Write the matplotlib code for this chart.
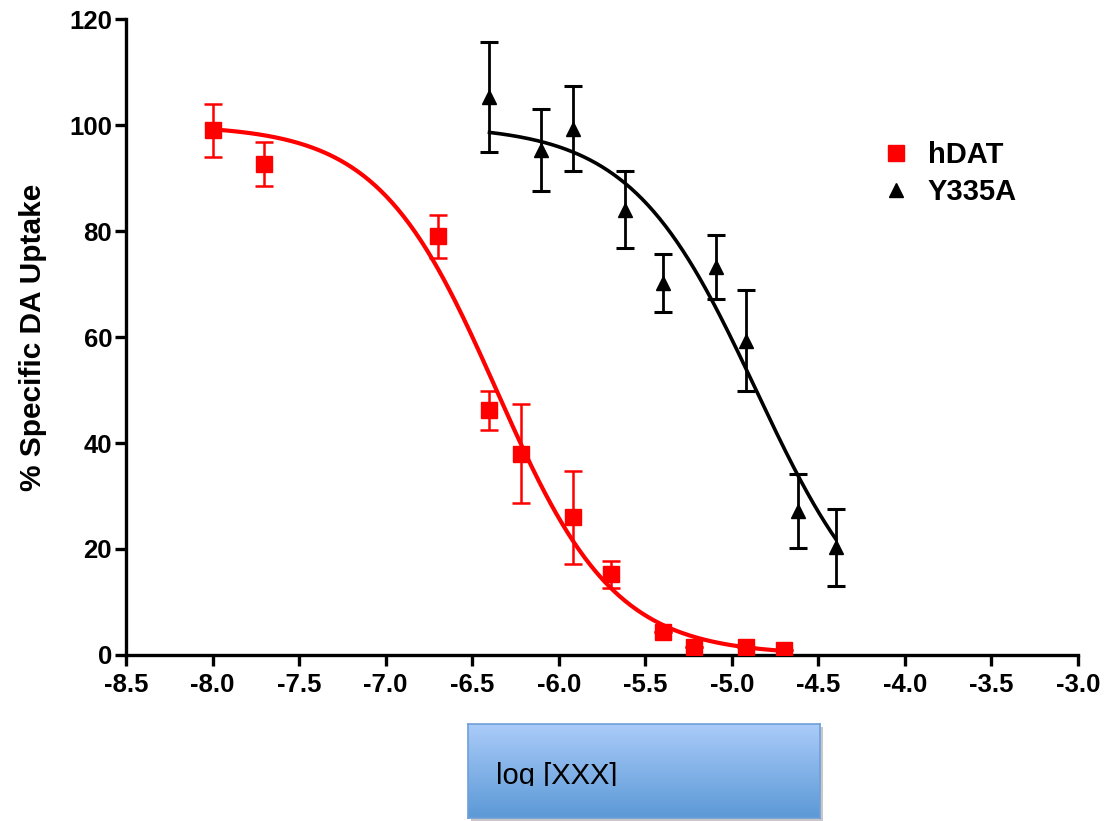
import numpy as np
import matplotlib.pyplot as plt
from matplotlib.lines import Line2D
from matplotlib.transforms import Bbox, TransformedBbox

plt.rcParams['font.family'] = ['Liberation Sans', 'DejaVu Sans']
plt.rcParams['axes.unicode_minus'] = False

# данные hDAT
hdat_x = [-8.0, -7.7, -6.7, -6.4, -6.22, -5.92, -5.7, -5.4, -5.22, -4.92, -4.7]
hdat_y = [99.0, 92.6, 79.0, 46.2, 38.0, 26.0, 15.2, 4.3, 1.6, 1.5, 0.9]
hdat_err = [5.0, 4.2, 4.0, 3.7, 9.3, 8.8, 2.5, 0, 0, 0, 0]

# данные Y335A
y335_x = [-6.4, -6.1, -5.92, -5.62, -5.4, -5.09, -4.92, -4.62, -4.4]
y335_y = [105.3, 95.3, 99.3, 84.0, 70.2, 73.2, 59.3, 27.2, 20.3]
y335_err = [10.3, 7.8, 8.0, 7.3, 5.4, 6.1, 9.5, 7.0, 7.3]

# параметры подгонки (top, bottom, logIC50, hill)
hdat_fit = (100.0, 0.0, -6.36, 1.27)
y335_fit = (100.0, 0.0, -4.86, 1.2)


def hill(x, top, bottom, logic50, h):
    return bottom + (top - bottom) / (1 + 10 ** ((x - logic50) * h))


fig = plt.figure(figsize=(11.07, 8.21), dpi=100)
ax = fig.add_axes([126 / 1107, 1 - 655 / 821, (1078 - 126) / 1107, (655 - 19) / 821])

red = '#ff0000'
xs = np.linspace(min(hdat_x), max(hdat_x), 300)
ax.plot(xs, hill(xs, *hdat_fit), color=red, lw=3.0, zorder=2)
xs = np.linspace(min(y335_x), max(y335_x), 300)
ax.plot(xs, hill(xs, *y335_fit), color='black', lw=2.6, zorder=2)

ax.errorbar(hdat_x, hdat_y, yerr=hdat_err, fmt='s', color=red, ms=11,
            elinewidth=1.8, capsize=6.5, capthick=1.8, zorder=3)
ax.errorbar(y335_x, y335_y, yerr=y335_err, fmt='^', color='black', ms=10,
            elinewidth=2.0, capsize=6.5, capthick=2.2, zorder=3)

ax.set_xlim(-8.5, -3.0)
ax.set_ylim(0, 120)
ax.set_xticks(np.arange(-8.5, -2.99, 0.5))
ax.set_xticklabels(['%.1f' % v for v in np.arange(-8.5, -2.99, 0.5)])
ax.set_yticks(range(0, 121, 20))
for s in ['top', 'right']:
    ax.spines[s].set_visible(False)
for s in ['left', 'bottom']:
    ax.spines[s].set_linewidth(2.4)
ax.tick_params(axis='both', length=8, width=2.4, labelsize=18.5)
ax.tick_params(axis='x', pad=5)
ax.tick_params(axis='y', pad=2)
for lab in ax.get_xticklabels() + ax.get_yticklabels():
    lab.set_fontweight('bold')
ax.set_ylabel('% Specific DA Uptake', fontsize=21.5, fontweight='bold', labelpad=16)

handles = [Line2D([], [], marker='s', color=red, ls='none', ms=11),
           Line2D([], [], marker='^', color='black', ls='none', ms=10)]
ax.legend(handles, ['hDAT', 'Y335A'], loc='upper left', bbox_to_anchor=(855 / 1107, 1 - 115 / 821),
          bbox_transform=fig.transFigure, frameon=False, handlelength=1.0, handletextpad=0.6,
          labelspacing=0.3, prop={'weight': 'bold', 'size': 21})

# синяя плашка с подписью оси x
bx0, bx1, by0, by1 = 468 / 1107, 820 / 1107, 1 - 818 / 821, 1 - 724 / 821
shadow = fig.add_axes([bx0 + 0.003, by0 - 0.004, bx1 - bx0, by1 - by0])
shadow.set_facecolor('#c8c8c8')
shadow.set_xticks([]); shadow.set_yticks([])
for s in shadow.spines.values():
    s.set_visible(False)
box = fig.add_axes([bx0, by0, bx1 - bx0, by1 - by0])
grad = np.linspace(0, 1, 100).reshape(-1, 1)
top_c = np.array([0.67, 0.80, 0.98])
bot_c = np.array([0.36, 0.60, 0.84])
img = top_c + (bot_c - top_c) * grad[:, :, None]
box.imshow(img, aspect='auto', extent=[0, 1, 0, 1])
box.set_xticks([]); box.set_yticks([])
for s in box.spines.values():
    s.set_color('#6f9fd8')
    s.set_linewidth(1.2)

t = fig.text(496 / 1107, 1 - 784 / 821, 'log [XXX]', fontsize=21, color='black',
             ha='left', va='baseline')
t.set_clip_box(TransformedBbox(Bbox([[0, 1 - 786 / 821], [1, 1]]), fig.transFigure))

fig.savefig('out.png', dpi=100)
